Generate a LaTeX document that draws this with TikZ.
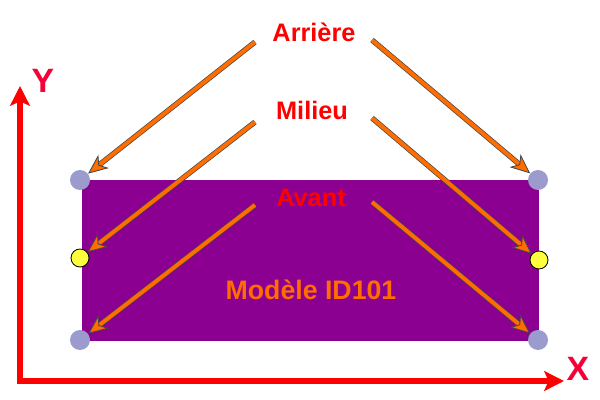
\documentclass[tikz,border=0pt]{standalone}
\usepackage{fontspec}
\setmainfont{Liberation Sans}
\usetikzlibrary{arrows.meta}

\definecolor{pourpre}{RGB}{140,0,145}
\definecolor{lavande}{RGB}{155,155,205}
\definecolor{orangeF}{RGB}{255,108,0}
\definecolor{bord}{RGB}{70,70,70}
\definecolor{rouge}{RGB}{255,0,0}
\definecolor{rougeAxe}{RGB}{245,0,55}
\definecolor{jaune}{RGB}{255,255,60}

\tikzset{
  etiquette/.style={font=\bfseries\fontsize{18}{20}\selectfont, text=rouge, inner sep=0pt, anchor=base},
  nomaxe/.style={font=\bfseries\fontsize{24}{26}\selectfont, text=rougeAxe, inner sep=0pt, anchor=base},
  coin/.style={circle, fill=lavande, minimum size=0.5cm, inner sep=0pt},
  milieupt/.style={circle, fill=jaune, draw=black, line width=0.6pt, minimum size=0.45cm, inner sep=0pt},
  fleche/.style={draw=orangeF, line width=2.8pt,
    -{Stealth[length=14pt, width=12pt, inset=4pt, color=bord, fill=orangeF, line width=0.6pt]},
    preaction={draw=bord, line width=3.8pt, -, shorten >=8pt}},
  axe/.style={draw=rouge, line width=3.6pt, line join=miter,
    {Stealth[length=14pt, width=14pt, inset=3pt]}-{Stealth[length=14pt, width=14pt, inset=3pt]}}
}

\begin{document}
\begin{tikzpicture}[x=0.025cm, y=-0.025cm]
\useasboundingbox (0,0) rectangle (600,400);

% Rectangle du modele
\fill[pourpre] (82,180) rectangle (539,341);

% Points aux coins et au milieu
\node[coin] (hg) at (80,180) {};
\node[coin] (hd) at (538,180) {};
\node[coin] (bg) at (80,340) {};
\node[coin] (bd) at (538,340) {};
\node[milieupt] (mg) at (80,258) {};
\node[milieupt] (md) at (539,260) {};

% Axes
\coordinate (Yb) at (20,86);
\coordinate (O) at (20,381);
\coordinate (Xb) at (564,381);
\draw[axe] (Yb) -- (O) -- (Xb);
\node[nomaxe] (ylab) at (43,93) {Y};
\node[nomaxe] (xlab) at (578,380) {X};

% Textes
\node[etiquette] (arriere) at (314,42) {Arrière};
\node[etiquette] (milieu) at (312,120) {Milieu};
\node[etiquette] (avant) at (311,207) {Avant};
\node[etiquette, text=orangeF, font=\bfseries\fontsize{19}{21}\selectfont] (modele) at (311,300) {Modèle ID101};

% Departs des fleches
\coordinate (arG) at (255,42);
\coordinate (arD) at (372,40);
\coordinate (miG) at (255,122);
\coordinate (miD) at (372,118);
\coordinate (avG) at (255,205);
\coordinate (avD) at (372,202);

% Fleches
\draw[fleche] (arG) -- (hg);
\draw[fleche] (arD) -- (hd);
\draw[fleche] (miG) -- (mg);
\draw[fleche] (miD) -- (md);
\draw[fleche] (avG) -- (bg);
\draw[fleche] (avD) -- (bd);

\end{tikzpicture}
\end{document}
